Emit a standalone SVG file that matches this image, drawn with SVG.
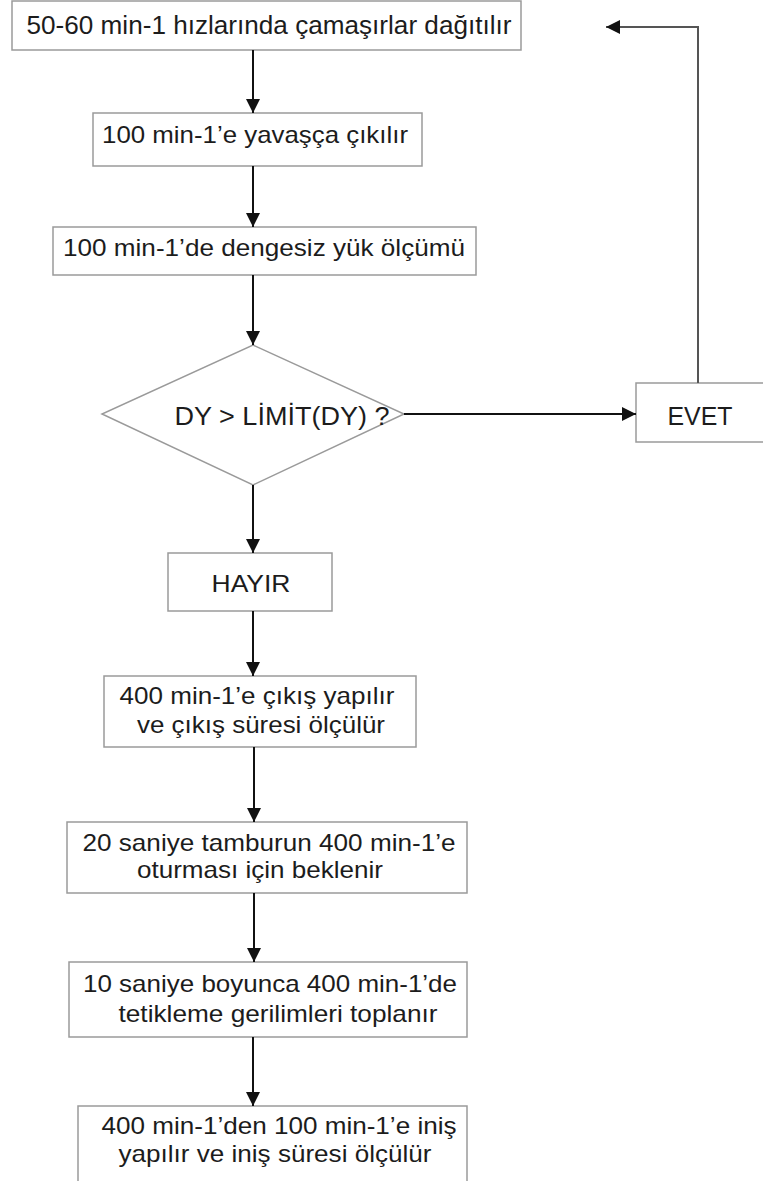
<svg xmlns="http://www.w3.org/2000/svg" width="763" height="1181" viewBox="0 0 763 1181">
  <defs>
    <marker id="head" viewBox="0 0 14 14" refX="14" refY="7" markerWidth="14" markerHeight="14" markerUnits="userSpaceOnUse" orient="auto">
      <path d="M0,0 L14,7 L0,14 Z" fill="#111"/>
    </marker>
    <style>
      .box { fill: #fff; stroke: #9a9a9a; stroke-width: 1.5; }
      .lbl { font-family: "Liberation Sans", Arial, sans-serif; font-size: 24px; fill: #1c1c1c; text-anchor: middle; }
      .big { font-size: 26px; }
      .flow { stroke: #111; stroke-width: 2; fill: none; }
      .back { stroke: #555; stroke-width: 2; fill: none; }
    </style>
  </defs>
  <rect width="763" height="1181" fill="#fff"/>

  <!-- process steps -->
  <g id="n1">
    <rect class="box" x="12" y="1" width="509" height="49"/>
    <text class="lbl big" x="269" y="34" textLength="485" lengthAdjust="spacingAndGlyphs">50-60 min-1 hızlarında çamaşırlar dağıtılır</text>
  </g>
  <g id="n2">
    <rect class="box" x="93" y="113" width="329" height="53"/>
    <text class="lbl" x="255" y="143" textLength="306" lengthAdjust="spacingAndGlyphs">100 min-1’e yavaşça çıkılır</text>
  </g>
  <g id="n3">
    <rect class="box" x="53" y="227" width="423" height="48"/>
    <text class="lbl" x="264" y="256" textLength="402" lengthAdjust="spacingAndGlyphs">100 min-1’de dengesiz yük ölçümü</text>
  </g>
  <g id="n4">
    <polygon class="box" points="253,345 404,414 253,485 102,414"/>
    <text class="lbl big" x="282" y="425" textLength="215" lengthAdjust="spacingAndGlyphs">DY &gt; LİMİT(DY) ?</text>
  </g>
  <g id="n5">
    <rect class="box" x="636" y="383" width="140" height="59"/>
    <text class="lbl big" x="700" y="425" textLength="65" lengthAdjust="spacingAndGlyphs">EVET</text>
  </g>
  <g id="n6">
    <rect class="box" x="168" y="553" width="164" height="58"/>
    <text class="lbl" x="251" y="592" textLength="79" lengthAdjust="spacingAndGlyphs">HAYIR</text>
  </g>
  <g id="n7">
    <rect class="box" x="104" y="676" width="312" height="71"/>
    <text class="lbl" x="257" y="704" textLength="275" lengthAdjust="spacingAndGlyphs">400 min-1’e çıkış yapılır</text>
    <text class="lbl" x="261" y="733" textLength="248" lengthAdjust="spacingAndGlyphs">ve çıkış süresi ölçülür</text>
  </g>
  <g id="n8">
    <rect class="box" x="67" y="822" width="400" height="71"/>
    <text class="lbl" x="269" y="851" textLength="373" lengthAdjust="spacingAndGlyphs">20 saniye tamburun 400 min-1’e</text>
    <text class="lbl" x="260" y="878" textLength="246" lengthAdjust="spacingAndGlyphs">oturması için beklenir</text>
  </g>
  <g id="n9">
    <rect class="box" x="69" y="962" width="398" height="75"/>
    <text class="lbl" x="270" y="992" textLength="374" lengthAdjust="spacingAndGlyphs">10 saniye boyunca 400 min-1’de</text>
    <text class="lbl" x="278" y="1022" textLength="319" lengthAdjust="spacingAndGlyphs">tetikleme gerilimleri toplanır</text>
  </g>
  <g id="n10">
    <rect class="box" x="78" y="1106" width="389" height="90"/>
    <text class="lbl" x="279" y="1134" textLength="355" lengthAdjust="spacingAndGlyphs">400 min-1’den 100 min-1’e iniş</text>
    <text class="lbl" x="275" y="1162" textLength="313" lengthAdjust="spacingAndGlyphs">yapılır ve iniş süresi ölçülür</text>
  </g>

  <!-- connectors -->
  <g id="connectors">
    <line class="flow" x1="253" y1="50" x2="253" y2="113" marker-end="url(#head)"/>
    <line class="flow" x1="253" y1="166" x2="253" y2="227" marker-end="url(#head)"/>
    <line class="flow" x1="253" y1="275" x2="253" y2="345" marker-end="url(#head)"/>
    <line class="flow" x1="404" y1="414" x2="636" y2="414" stroke-width="2.5" marker-end="url(#head)"/>
    <polyline class="back" points="698,383 698,27 606,27" marker-end="url(#head)"/>
    <line class="flow" x1="253" y1="485" x2="253" y2="553" marker-end="url(#head)"/>
    <line class="flow" x1="253" y1="611" x2="253" y2="676" marker-end="url(#head)"/>
    <line class="flow" x1="254" y1="747" x2="254" y2="822" marker-end="url(#head)"/>
    <line class="flow" x1="254" y1="893" x2="254" y2="962" marker-end="url(#head)"/>
    <line class="flow" x1="253" y1="1037" x2="253" y2="1106" marker-end="url(#head)"/>
  </g>
</svg>
